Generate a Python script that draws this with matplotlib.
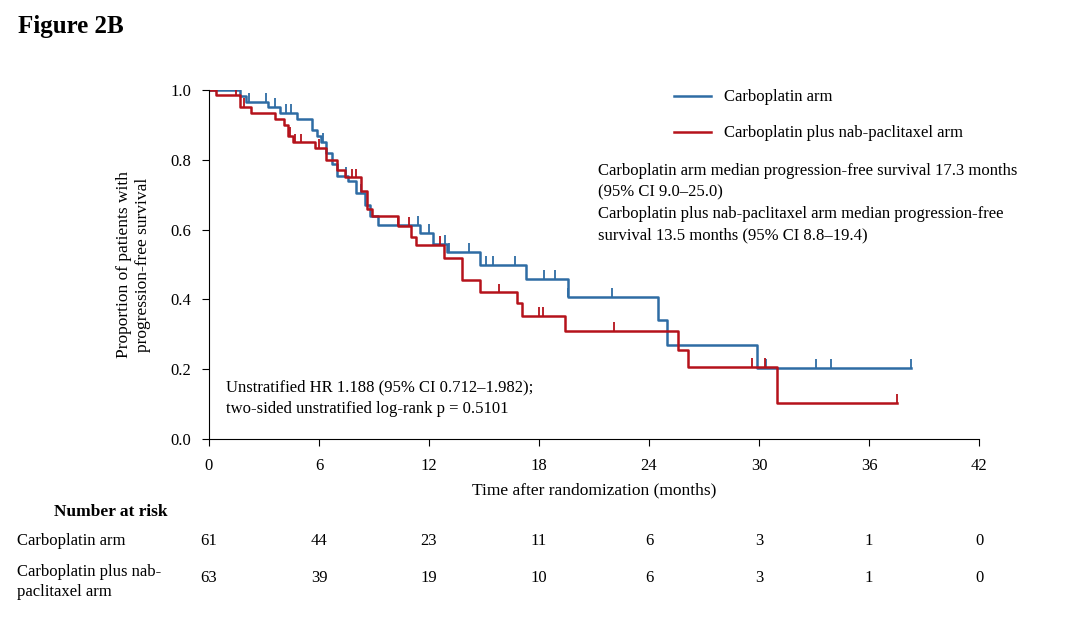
import numpy as np
import matplotlib.pyplot as plt
import matplotlib.transforms as mtransforms

plt.rcParams['font.family'] = ['Liberation Serif', 'DejaVu Serif']

# Carboplatin arm: step times and survival after each drop
carbo_t = [0, 1.7, 2.0, 3.2, 3.9, 4.8, 5.6, 5.9, 6.1, 6.4, 6.7, 7.0, 7.6, 8.0, 8.5, 8.8, 9.2,
           11.5, 12.2, 13.0, 14.8, 17.3, 19.6, 24.5, 25.0, 29.9, 38.3]
carbo_s = [1.0, 0.984, 0.967, 0.951, 0.934, 0.918, 0.885, 0.869, 0.852, 0.82, 0.787, 0.754, 0.738,
           0.705, 0.672, 0.64, 0.613, 0.59, 0.56, 0.537, 0.50, 0.458, 0.408, 0.341, 0.27, 0.203, 0.203]
carbo_cens = [2.2, 3.1, 3.6, 4.2, 4.5, 6.2, 7.5, 8.3, 11.4, 12.0, 12.9, 13.1, 14.2, 15.1, 15.5,
              16.7, 18.3, 18.9, 19.6, 22.0, 30.4, 33.1, 33.9, 38.3]

# Carboplatin plus nab-paclitaxel arm
nab_t = [0, 0.4, 1.7, 2.3, 3.6, 4.1, 4.3, 4.6, 5.8, 6.4, 7.0, 7.4, 8.3, 8.6, 8.9,
         10.3, 11.0, 11.3, 12.8, 13.8, 14.8, 16.8, 17.1, 19.4, 25.6, 26.1, 31.0, 37.5]
nab_s = [1.0, 0.986, 0.952, 0.934, 0.917, 0.90, 0.868, 0.85, 0.834, 0.80, 0.77, 0.75, 0.71, 0.66,
         0.64, 0.61, 0.58, 0.557, 0.52, 0.456, 0.42, 0.39, 0.352, 0.31, 0.255, 0.206, 0.103, 0.103]
nab_cens = [1.5, 1.9, 4.4, 4.7, 5.0, 6.0, 7.8, 8.0, 10.3, 10.9, 12.6, 15.8, 18.0, 18.2, 22.1,
            29.6, 30.3, 37.5]

risk_times = [0, 6, 12, 18, 24, 30, 36, 42]
risk_carbo = [61, 44, 23, 11, 6, 3, 1, 0]
risk_nab = [63, 39, 19, 10, 6, 3, 1, 0]

blue = '#2e6ca4'
red = '#b5121b'

fig = plt.figure(figsize=(10.8, 6.17), dpi=100)
ax = fig.add_axes([0.1935, 0.2885, 0.713, 0.5655])


def draw_arm(t, s, cens, color, label):
    ax.step(t, s, where='post', color=color, lw=1.8, label=label)
    idx = np.searchsorted(t, cens, side='right') - 1
    ys = np.array(s)[idx]
    ax.vlines(cens, ys, ys + 0.025, color=color, lw=1.3)


draw_arm(carbo_t, carbo_s, carbo_cens, blue, 'Carboplatin arm')
draw_arm(nab_t, nab_s, nab_cens, red, 'Carboplatin plus nab-paclitaxel arm')

ax.set_xlim(0, 42)
ax.set_ylim(0, 1.0)
ax.set_xticks(risk_times)
ax.set_yticks(np.arange(0, 1.01, 0.2))
ax.set_yticklabels([f'{v:.1f}' for v in np.arange(0, 1.01, 0.2)])
ax.tick_params(labelsize=12, direction='out', length=5)
ax.tick_params(axis='x', pad=9)
ax.tick_params(axis='y', pad=8)
ax.spines['top'].set_visible(False)
ax.spines['right'].set_visible(False)
ax.set_xlabel('Time after randomization (months)', fontsize=12.5, labelpad=6)
ax.set_ylabel('Proportion of patients with\nprogression-free survival', fontsize=12.5, labelpad=14)

ax.legend(loc='upper left', bbox_to_anchor=(0.585, 1.045), frameon=False, fontsize=12,
          handlelength=2.2, labelspacing=1.2)

ax.text(0.505, 0.79, 'Carboplatin arm median progression-free survival 17.3 months\n'
        '(95% CI 9.0–25.0)\n'
        'Carboplatin plus nab-paclitaxel arm median progression-free\n'
        'survival 13.5 months (95% CI 8.8–19.4)',
        transform=ax.transAxes, fontsize=12, va='top', linespacing=1.45)
ax.text(0.022, 0.17, 'Unstratified HR 1.188 (95% CI 0.712–1.982);\n'
        'two-sided unstratified log-rank p = 0.5101',
        transform=ax.transAxes, fontsize=12, va='top', linespacing=1.45)

trans = mtransforms.blended_transform_factory(ax.transData, ax.transAxes)
fig.text(0.05, 1 - 512 / 617, 'Number at risk', fontsize=12.5, fontweight='bold', va='center')
fig.text(0.016, 1 - 541 / 617, 'Carboplatin arm', fontsize=12, va='center')
fig.text(0.016, 1 - 582 / 617, 'Carboplatin plus nab-\npaclitaxel arm', fontsize=12,
         va='center', linespacing=1.4)
for t, a, b in zip(risk_times, risk_carbo, risk_nab):
    ax.text(t, (439 - 541) / 349, str(a), transform=trans, ha='center', va='center', fontsize=12)
    ax.text(t, (439 - 578) / 349, str(b), transform=trans, ha='center', va='center', fontsize=12)

fig.text(0.017, 1 - 27 / 617, 'Figure 2B', fontsize=18, fontweight='bold', va='center')

fig.savefig('out.png', dpi=100)
